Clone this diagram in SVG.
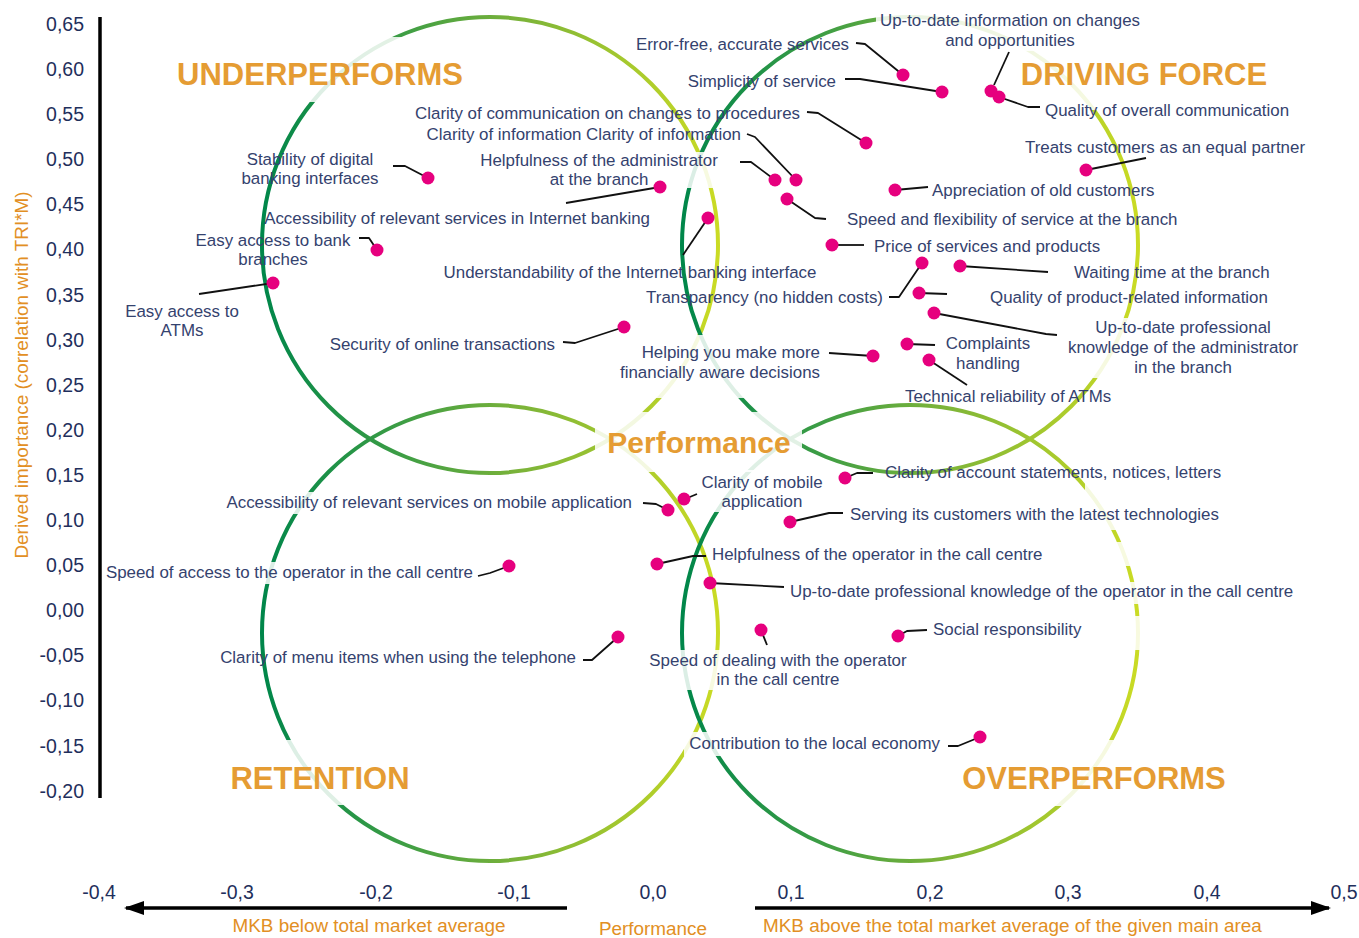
<svg xmlns="http://www.w3.org/2000/svg" width="1359" height="938" viewBox="0 0 1359 938">
<style>
.lbl{font-family:"Liberation Sans",Arial,sans-serif;font-size:16.9px;fill:#34426e}
.tick{font-family:"Liberation Sans",Arial,sans-serif;font-size:19.5px;fill:#1f2f5c}
.quad{font-family:"Liberation Sans",Arial,sans-serif;font-size:31px;font-weight:bold;fill:#e59c33}
.axt{font-family:"Liberation Sans",Arial,sans-serif;font-size:18.9px;fill:#e28f24}
.ring{fill:none;stroke:url(#rg);stroke-width:4}
.fade{fill:#fff;fill-opacity:0.86}
.lead{fill:none;stroke:#111;stroke-width:1.8;stroke-linejoin:round}
.dot{fill:#e6007e}
.axis{stroke:#000;stroke-width:3.5;fill:none}
.m{text-anchor:middle}
.e{text-anchor:end}
</style>
<defs>
<linearGradient id="rg" x1="0" y1="0" x2="1" y2="0">
<stop offset="0" stop-color="#00864a"/>
<stop offset="0.3" stop-color="#3c9d45"/>
<stop offset="0.55" stop-color="#78b23a"/>
<stop offset="1" stop-color="#cadb24"/>
</linearGradient>
<marker id="ah" viewBox="0 0 20 14" refX="18" refY="7" markerWidth="20" markerHeight="14" markerUnits="userSpaceOnUse" orient="auto">
<path d="M0,0 L20,7 L0,14 Z" fill="#000"/>
</marker>
</defs>
<rect width="1359" height="938" fill="#fff"/>

<g id="circles">
<circle class="ring" cx="490" cy="245" r="228"/>
<circle class="ring" cx="910" cy="245" r="228"/>
<circle class="ring" cx="490" cy="633" r="228"/>
<circle class="ring" cx="910" cy="633" r="228"/>
</g>

<g id="fades">
<rect class="fade" x="165" y="37" width="310" height="65"/>
<rect class="fade" x="1005" y="40" width="275" height="70"/>
<rect class="fade" x="876" y="9" width="267" height="42"/>
<rect class="fade" x="595" y="412" width="207" height="60"/>
<rect class="fade" x="218" y="740" width="202" height="65"/>
<rect class="fade" x="950" y="740" width="286" height="66"/>
<rect class="fade" x="475" y="152" width="247" height="36"/>
<rect class="fade" x="617" y="335" width="207" height="63"/>
<rect class="fade" x="698" y="470" width="128" height="42"/>
<rect class="fade" x="646" y="650" width="264" height="40"/>
<rect class="fade" x="684" y="732" width="258" height="24"/>
<rect class="fade" x="105" y="562" width="372" height="22"/>
<rect class="fade" x="223" y="492" width="413" height="22"/>
<rect class="fade" x="1062" y="318" width="240" height="60"/>
<rect class="fade" x="1085" y="460" width="60" height="70"/>
<rect class="fade" x="1100" y="542" width="45" height="24"/>
<rect class="fade" x="1100" y="582" width="45" height="22"/>
<rect class="fade" x="1100" y="616" width="45" height="34"/>
</g>

<g id="axes">
<line class="axis" x1="100" y1="17" x2="100" y2="798"/>
<line class="axis" x1="567" y1="908" x2="126" y2="908" marker-end="url(#ah)"/>
<line class="axis" x1="755" y1="908" x2="1329" y2="908" marker-end="url(#ah)"/>
<g class="tick e">
<text x="84" y="31">0,65</text>
<text x="84" y="76">0,60</text>
<text x="84" y="121">0,55</text>
<text x="84" y="166">0,50</text>
<text x="84" y="211">0,45</text>
<text x="84" y="256">0,40</text>
<text x="84" y="302">0,35</text>
<text x="84" y="347">0,30</text>
<text x="84" y="392">0,25</text>
<text x="84" y="437">0,20</text>
<text x="84" y="482">0,15</text>
<text x="84" y="527">0,10</text>
<text x="84" y="572">0,05</text>
<text x="84" y="617">0,00</text>
<text x="84" y="662">-0,05</text>
<text x="84" y="707">-0,10</text>
<text x="84" y="753">-0,15</text>
<text x="84" y="798">-0,20</text>
</g>
<g class="tick m">
<text x="99" y="899">-0,4</text>
<text x="237" y="899">-0,3</text>
<text x="376" y="899">-0,2</text>
<text x="514" y="899">-0,1</text>
<text x="653" y="899">0,0</text>
<text x="791" y="899">0,1</text>
<text x="930" y="899">0,2</text>
<text x="1068" y="899">0,3</text>
<text x="1207" y="899">0,4</text>
<text x="1344" y="899">0,5</text>
</g>
<text class="axt m" transform="translate(28,375) rotate(-90)">Derived importance (correlation with TRI*M)</text>
<text class="axt m" x="369" y="932">MKB below total market average</text>
<text class="axt m" x="653" y="935">Performance</text>
<text class="axt" x="763" y="932">MKB above the total market average of the given main area</text>
</g>

<g id="quadrants">
<text class="quad m" x="320" y="85">UNDERPERFORMS</text>
<text class="quad m" x="1144" y="85">DRIVING FORCE</text>
<text class="quad m" x="320" y="789">RETENTION</text>
<text class="quad m" x="1094" y="789">OVERPERFORMS</text>
<text class="quad m" x="699" y="453" style="font-size:30px">Performance</text>
</g>

<g id="connectors">
<polyline class="lead" points="856,43 865,44 903,75"/>
<polyline class="lead" points="845,79 860,79 942,92"/>
<polyline class="lead" points="1009,52 994,85"/>
<polyline class="lead" points="999,97 1028,107 1040,107"/>
<polyline class="lead" points="807,112 818,113 866,143"/>
<polyline class="lead" points="747,134 755,137 796,180"/>
<polyline class="lead" points="740,162 751,162 775,180"/>
<polyline class="lead" points="566,203 660,187"/>
<polyline class="lead" points="393,166 405,166 428,178"/>
<polyline class="lead" points="683,255 708,218"/>
<polyline class="lead" points="359,238 369,238 377,250"/>
<polyline class="lead" points="199,294 273,283"/>
<polyline class="lead" points="787,199 815,218 826,219"/>
<polyline class="lead" points="895,190 928,187"/>
<polyline class="lead" points="1086,170 1146,158"/>
<polyline class="lead" points="832,245 864,245"/>
<polyline class="lead" points="960,266 1048,272"/>
<polyline class="lead" points="889,297 899,297 922,263"/>
<polyline class="lead" points="919,293 947,294"/>
<polyline class="lead" points="934,313 1046,334 1057,335"/>
<polyline class="lead" points="907,344 935,345"/>
<polyline class="lead" points="929,360 967,385"/>
<polyline class="lead" points="829,353 873,356"/>
<polyline class="lead" points="563,342 575,343 624,327"/>
<polyline class="lead" points="845,478 857,473 873,473"/>
<polyline class="lead" points="685,499 697,494"/>
<polyline class="lead" points="643,503 656,504 668,510"/>
<polyline class="lead" points="790,522 829,513 843,513"/>
<polyline class="lead" points="657,564 693,556 706,556"/>
<polyline class="lead" points="710,583 784,587"/>
<polyline class="lead" points="478,576 490,573 509,566"/>
<polyline class="lead" points="583,660 592,660 618,637"/>
<polyline class="lead" points="761,630 767,645"/>
<polyline class="lead" points="898,636 907,631 927,630"/>
<polyline class="lead" points="948,746 958,746 980,737"/>
</g>

<g id="n1"><circle class="dot" cx="903" cy="75" r="6.5"/><text class="lbl e" x="849" y="50">Error-free, accurate services</text></g>
<g id="n2"><circle class="dot" cx="942" cy="92" r="6.5"/><text class="lbl e" x="836" y="87">Simplicity of service</text></g>
<g id="n3"><circle class="dot" cx="991" cy="91" r="6.5"/><text class="lbl m" x="1010" y="26">Up-to-date information on changes</text><text class="lbl m" x="1010" y="46">and opportunities</text></g>
<g id="n4"><circle class="dot" cx="999" cy="97" r="6.5"/><text class="lbl" x="1045" y="116">Quality of overall communication</text></g>
<g id="n5"><circle class="dot" cx="866" cy="143" r="6.5"/><text class="lbl e" x="800" y="119">Clarity of communication on changes to procedures</text></g>
<g id="n6"><circle class="dot" cx="796" cy="180" r="6.5"/><text class="lbl e" x="741" y="140">Clarity of information Clarity of information</text></g>
<g id="n7"><circle class="dot" cx="775" cy="180" r="6.5"/><text class="lbl m" x="599" y="166">Helpfulness of the administrator</text><text class="lbl m" x="599" y="185">at the branch</text></g>
<g id="n8"><circle class="dot" cx="660" cy="187" r="6.5"/><text class="lbl e" x="650" y="224">Accessibility of relevant services in Internet banking</text></g>
<g id="n9"><circle class="dot" cx="428" cy="178" r="6.5"/><text class="lbl m" x="310" y="165">Stability of digital</text><text class="lbl m" x="310" y="184">banking interfaces</text></g>
<g id="n10"><circle class="dot" cx="708" cy="218" r="6.5"/><text class="lbl m" x="630" y="278">Understandability of the Internet banking interface</text></g>
<g id="n11"><circle class="dot" cx="377" cy="250" r="6.5"/><text class="lbl m" x="273" y="246">Easy access to bank</text><text class="lbl m" x="273" y="265">branches</text></g>
<g id="n12"><circle class="dot" cx="273" cy="283" r="6.5"/><text class="lbl m" x="182" y="317">Easy access to</text><text class="lbl m" x="182" y="336">ATMs</text></g>
<g id="n13"><circle class="dot" cx="787" cy="199" r="6.5"/><text class="lbl" x="847" y="225">Speed and flexibility of service at the branch</text></g>
<g id="n14"><circle class="dot" cx="895" cy="190" r="6.5"/><text class="lbl" x="932" y="196">Appreciation of old customers</text></g>
<g id="n15"><circle class="dot" cx="1086" cy="170" r="6.5"/><text class="lbl m" x="1165" y="153">Treats customers as an equal partner</text></g>
<g id="n16"><circle class="dot" cx="832" cy="245" r="6.5"/><text class="lbl" x="874" y="252">Price of services and products</text></g>
<g id="n17"><circle class="dot" cx="960" cy="266" r="6.5"/><text class="lbl" x="1074" y="278">Waiting time at the branch</text></g>
<g id="n18"><circle class="dot" cx="922" cy="263" r="6.5"/><text class="lbl e" x="883" y="303">Transparency (no hidden costs)</text></g>
<g id="n19"><circle class="dot" cx="919" cy="293" r="6.5"/><text class="lbl" x="990" y="303">Quality of product-related information</text></g>
<g id="n20"><circle class="dot" cx="934" cy="313" r="6.5"/><text class="lbl m" x="1183" y="333">Up-to-date professional</text><text class="lbl m" x="1183" y="353">knowledge of the administrator</text><text class="lbl m" x="1183" y="373">in the branch</text></g>
<g id="n21"><circle class="dot" cx="907" cy="344" r="6.5"/><text class="lbl m" x="988" y="349">Complaints</text><text class="lbl m" x="988" y="369">handling</text></g>
<g id="n22"><circle class="dot" cx="929" cy="360" r="6.5"/><text class="lbl" x="905" y="402">Technical reliability of ATMs</text></g>
<g id="n23"><circle class="dot" cx="873" cy="356" r="6.5"/><text class="lbl e" x="820" y="358">Helping you make more</text><text class="lbl e" x="820" y="378">financially aware decisions</text></g>
<g id="n24"><circle class="dot" cx="624" cy="327" r="6.5"/><text class="lbl e" x="555" y="350">Security of online transactions</text></g>
<g id="n25"><circle class="dot" cx="845" cy="478" r="6.5"/><text class="lbl" x="885" y="478">Clarity of account statements, notices, letters</text></g>
<g id="n26"><circle class="dot" cx="684" cy="499" r="6.5"/><text class="lbl m" x="762" y="488">Clarity of mobile</text><text class="lbl m" x="762" y="507">application</text></g>
<g id="n27"><circle class="dot" cx="668" cy="510" r="6.5"/><text class="lbl e" x="632" y="508">Accessibility of relevant services on mobile application</text></g>
<g id="n28"><circle class="dot" cx="790" cy="522" r="6.5"/><text class="lbl" x="850" y="520">Serving its customers with the latest technologies</text></g>
<g id="n29"><circle class="dot" cx="657" cy="564" r="6.5"/><text class="lbl" x="712" y="560">Helpfulness of the operator in the call centre</text></g>
<g id="n30"><circle class="dot" cx="710" cy="583" r="6.5"/><text class="lbl" x="790" y="597">Up-to-date professional knowledge of the operator in the call centre</text></g>
<g id="n31"><circle class="dot" cx="509" cy="566" r="6.5"/><text class="lbl e" x="473" y="578">Speed of access to the operator in the call centre</text></g>
<g id="n32"><circle class="dot" cx="618" cy="637" r="6.5"/><text class="lbl e" x="576" y="663">Clarity of menu items when using the telephone</text></g>
<g id="n33"><circle class="dot" cx="761" cy="630" r="6.5"/><text class="lbl m" x="778" y="666">Speed of dealing with the operator</text><text class="lbl m" x="778" y="685">in the call centre</text></g>
<g id="n34"><circle class="dot" cx="898" cy="636" r="6.5"/><text class="lbl" x="933" y="635">Social responsibility</text></g>
<g id="n35"><circle class="dot" cx="980" cy="737" r="6.5"/><text class="lbl e" x="940" y="749">Contribution to the local economy</text></g>
</svg>
